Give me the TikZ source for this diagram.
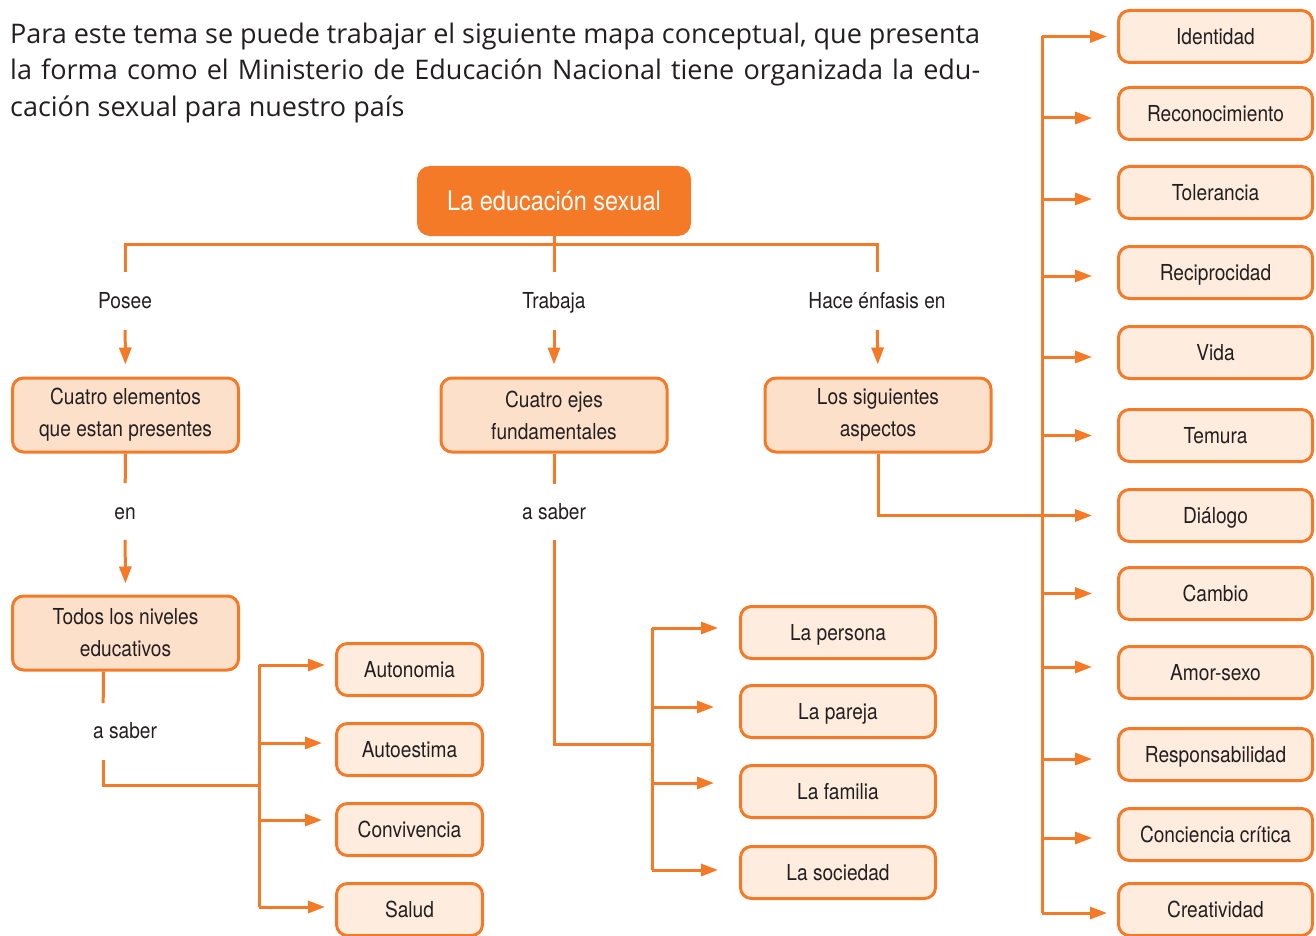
\documentclass[tikz,border=0pt]{standalone}
\usepackage{fontspec}
\setmainfont{Open Sans}
\newfontfamily\mapfont{TeX Gyre Heros}[FakeStretch=0.87]
\usetikzlibrary{arrows.meta}
\definecolor{mapOrange}{RGB}{244,122,40}
\definecolor{mapPeach}{RGB}{253,224,202}
\definecolor{mapCream}{RGB}{254,236,222}
\definecolor{mapInk}{RGB}{35,31,32}

\begin{document}
\begin{tikzpicture}[x=1pt,y=-1pt,
  conn/.style={line width=3pt, mapOrange},
  arr/.style={conn, -{Triangle[length=17pt,width=12pt]}},
  titlebox/.style={fill=mapOrange, rounded corners=13pt, minimum width=274pt, minimum height=70pt,
    text=white, font=\mapfont\fontsize{27pt}{27pt}\selectfont},
  conceptbox/.style={draw=mapOrange, line width=3pt, fill=mapPeach, rounded corners=11pt,
    minimum width=226pt, minimum height=74pt, align=center, text=mapInk,
    font=\mapfont\fontsize{22pt}{32pt}\selectfont},
  leafbox/.style={draw=mapOrange, line width=3pt, fill=mapCream, rounded corners=11pt,
    minimum height=52pt, text height=15.5pt, text depth=0pt, text=mapInk,
    font=\mapfont\fontsize{22pt}{22pt}\selectfont},
  linklabel/.style={inner sep=0pt, text height=15.5pt, text depth=0pt, text=mapInk,
    font=\mapfont\fontsize{22pt}{22pt}\selectfont}]
\useasboundingbox (0,0) rectangle (1316,936);

% intro text
\node[anchor=north west, inner sep=0pt, text width=970pt, align=justify, text=mapInk,
  font=\fontsize{27pt}{36.5pt}\selectfont] (intro) at (10,22.5)
  {Para este tema se puede trabajar el siguiente mapa conceptual, que presenta\linebreak
   la forma como el Ministerio de Educación Nacional tiene organizada la edu-\linebreak
   cación sexual para nuestro país};

% main concept
\node[titlebox] (educ) at (554,201) {La educación sexual};
\node[linklabel] (posee) at (125,301) {Posee};
\node[linklabel] (trabaja) at (554,301) {Trabaja};
\node[linklabel] (enfasis) at (877,301) {Hace énfasis en};
\coordinate (split) at (554,244);

\node[conceptbox] (elementos) at (125.5,415) {Cuatro elementos\\que estan presentes};
\node[conceptbox] (ejes) at (554,415) {Cuatro ejes\\fundamentales};
\node[conceptbox] (aspectos) at (878,415) {Los siguientes\\aspectos};

\node[linklabel] (en) at (125,512) {en};
\node[linklabel] (asaberA) at (554,512) {a saber};
\node[conceptbox] (niveles) at (125.5,633) {Todos los niveles\\educativos};
\node[linklabel] (asaberB) at (125,731) {a saber};

% left leaves
\node[leafbox, minimum width=146pt] (autonomia) at (409.5,669.5) {Autonomia};
\node[leafbox, minimum width=146pt] (autoestima) at (409.5,749.5) {Autoestima};
\node[leafbox, minimum width=146pt] (convivencia) at (409.5,829.5) {Convivencia};
\node[leafbox, minimum width=146pt] (salud) at (409.5,909.5) {Salud};

% middle leaves
\node[leafbox, minimum width=195pt] (persona) at (838,632.5) {La persona};
\node[leafbox, minimum width=195pt] (pareja) at (838,711.5) {La pareja};
\node[leafbox, minimum width=195pt] (familia) at (838,791.5) {La familia};
\node[leafbox, minimum width=195pt] (sociedad) at (838,872.5) {La sociedad};

% right leaves
\node[leafbox, minimum width=194pt] (identidad) at (1215.5,36.5) {Identidad};
\node[leafbox, minimum width=194pt] (reconocimiento) at (1215.5,113.5) {Reconocimiento};
\node[leafbox, minimum width=194pt] (tolerancia) at (1215.5,192.5) {Tolerancia};
\node[leafbox, minimum width=194pt] (reciprocidad) at (1215.5,272.5) {Reciprocidad};
\node[leafbox, minimum width=194pt] (vida) at (1215.5,352.5) {Vida};
\node[leafbox, minimum width=194pt] (temura) at (1215.5,435.5) {Temura};
\node[leafbox, minimum width=194pt] (dialogo) at (1215.5,515.5) {Diálogo};
\node[leafbox, minimum width=194pt] (cambio) at (1215.5,593.5) {Cambio};
\node[leafbox, minimum width=194pt] (amor) at (1215.5,672.5) {Amor-sexo};
\node[leafbox, minimum width=194pt] (responsabilidad) at (1215.5,754.5) {Responsabilidad};
\node[leafbox, minimum width=194pt] (conciencia) at (1215.5,834.5) {Conciencia crítica};
\node[leafbox, minimum width=194pt] (creatividad) at (1215.5,909.5) {Creatividad};

% bus coordinates
\coordinate (lefttop) at (259,665);
\coordinate (leftbot) at (259,907);
\coordinate (leftjoin) at (259,785);
\coordinate (midtop) at (652,628);
\coordinate (midbot) at (652,870);
\coordinate (midjoin) at (652,744);
\coordinate (righttop) at (1042,36.5);
\coordinate (rightbot) at (1042,913);

% top bracket
\draw[conn, shorten <=21pt, shorten >=21pt] (posee.north) |- (split) -| (enfasis.north);
\draw[conn, shorten >=21pt] (educ.south) -- (trabaja.north);
\draw[arr, shorten <=21pt, shorten >=12pt] (posee.south) -- (elementos.north);
\draw[arr, shorten <=21pt, shorten >=12pt] (trabaja.south) -- (ejes.north);
\draw[arr, shorten <=21pt, shorten >=12pt] (enfasis.south) -- (aspectos.north);

% left branch
\draw[conn, shorten >=21pt] (elementos.south) -- (en.north);
\draw[arr, shorten <=20pt, shorten >=11pt] (en.south) -- (niveles.north);
\draw[conn, shorten >=20pt] ([xshift=-22pt]niveles.south) -- ([xshift=-22pt]asaberB.north);
\draw[conn, shorten <=21pt] ([xshift=-22pt]asaberB.south) |- (leftjoin);
\draw[conn] (lefttop) -- (leftbot);
\draw[arr, shorten >=10pt] ([yshift=4.5pt]autonomia.west -| lefttop) -- ([yshift=4.5pt]autonomia.west);
\draw[arr, shorten >=13pt] ([yshift=6.5pt]autoestima.west -| lefttop) -- ([yshift=6.5pt]autoestima.west);
\draw[arr, shorten >=13pt] ([yshift=9.5pt]convivencia.west -| lefttop) -- ([yshift=9.5pt]convivencia.west);
\draw[arr, shorten >=10pt] ([yshift=2.5pt]salud.west -| lefttop) -- ([yshift=2.5pt]salud.west);

% middle branch
\draw[conn, shorten >=20pt] (ejes.south) -- (asaberA.north);
\draw[conn, shorten <=20pt] (asaberA.south) |- (midjoin);
\draw[conn] (midtop) -- (midbot);
\draw[arr, shorten >=21pt] ([yshift=4.5pt]persona.west -| midtop) -- ([yshift=4.5pt]persona.west);
\draw[arr, shorten >=25pt] ([yshift=4.5pt]pareja.west -| midtop) -- ([yshift=4.5pt]pareja.west);
\draw[arr, shorten >=25pt] ([yshift=8.5pt]familia.west -| midtop) -- ([yshift=8.5pt]familia.west);
\draw[arr, shorten >=21pt] ([yshift=2.5pt]sociedad.west -| midtop) -- ([yshift=2.5pt]sociedad.west);

% right branch
\draw[conn] (righttop) -- (rightbot);
\draw[arr, shorten >=10pt] (identidad.west -| righttop) -- (identidad.west);
\draw[arr, shorten >=25pt] ([yshift=-4.5pt]reconocimiento.west -| righttop) -- ([yshift=-4.5pt]reconocimiento.west);
\draw[arr, shorten >=25pt] ([yshift=-6.5pt]tolerancia.west -| righttop) -- ([yshift=-6.5pt]tolerancia.west);
\draw[arr, shorten >=25pt] ([yshift=-3.5pt]reciprocidad.west -| righttop) -- ([yshift=-3.5pt]reciprocidad.west);
\draw[arr, shorten >=25pt] ([yshift=-4.5pt]vida.west -| righttop) -- ([yshift=-4.5pt]vida.west);
\draw[arr, shorten >=25pt] (temura.west -| righttop) -- (temura.west);
\draw[arr, shorten >=25pt] (aspectos.south) |- (dialogo.west);
\draw[arr, shorten >=25pt] (cambio.west -| righttop) -- (cambio.west);
\draw[arr, shorten >=25pt] ([yshift=5.5pt]amor.west -| righttop) -- ([yshift=5.5pt]amor.west);
\draw[arr, shorten >=25pt] ([yshift=-4.5pt]responsabilidad.west -| righttop) -- ([yshift=-4.5pt]responsabilidad.west);
\draw[arr, shorten >=25pt] ([yshift=-3.5pt]conciencia.west -| righttop) -- ([yshift=-3.5pt]conciencia.west);
\draw[arr, shorten >=10pt] ([yshift=-3.5pt]creatividad.west -| righttop) -- ([yshift=-3.5pt]creatividad.west);
\end{tikzpicture}
\end{document}
